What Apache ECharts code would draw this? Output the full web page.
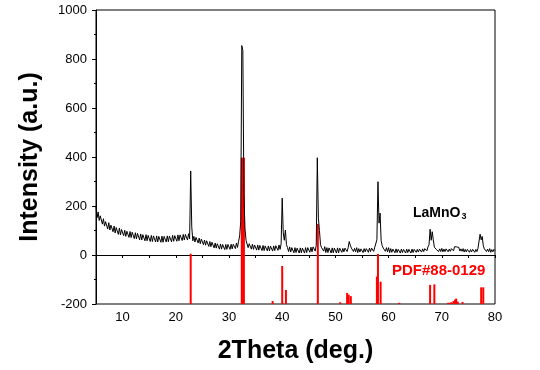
<!DOCTYPE html>
<html><head><meta charset="utf-8">
<script src="https://cdn.jsdelivr.net/npm/echarts@6/dist/echarts.min.js"></script>
<style>html,body{margin:0;padding:0;background:#fff}#c{width:540px;height:370px}</style>
</head><body><div id="c"></div>
<script>
const xStart = 5, xStep = 0.2;
const intensity = [
196,152,176,141,160, 162,126,148,118,136, 142,106,132,102,122, 126,95,118,90,112,
117,84,110,82,104, 108,79,101,76,97, 102,72,96,71,93, 97,67,91,66,88,
92,62,86,61,83, 88,58,83,58,80, 85,55,80,55,78, 82,53,78,53,76,
81,52,77,52,76, 81,53,78,54,77, 83,54,80,56,79, 85,56,82,58,82,
87,59,84,61,84, 90,61,87,66,343, 115,58,76,53,72, 75,49,69,46,65,
67,42,61,40,58, 60,35,55,34,52, 54,29,49,28,46, 49,24,45,24,43,
46,22,43,23,43, 47,23,44,25,44, 49,26,49,31,56, 78,135,855,835,250,
110,60,52,30,46, 49,24,44,23,41, 45,20,41,20,39, 42,18,39,18,37,
41,17,37,17,36, 40,16,37,18,38, 42,19,41,23,46, 232,90,60,102,42,
30,14,33,12,30, 34,9,30,10,28, 32,8,29,9,28, 32,8,30,10,30,
34,11,32,13,33, 38,16,40,397,150, 100,42,30,34,16, 34,10,30,10,29,
33,8,29,9,28, 32,8,29,9,28, 30,11,27,13,28, 32,14,30,55,40,
28,34,14,27,13, 30,10,26,12,25, 30,10,26,13,26, 31,11,28,14,28,
34,15,32,38,62, 299,130,171,58,38, 28,33,15,30,13, 30,10,26,11,24,
29,9,25,10,23, 28,8,24,10,23, 28,8,24,10,23, 28,8,24,10,23,
25,11,23,12,24, 26,12,25,14,26, 29,17,33,42,105, 60,95,62,32,28,
22,27,14,25,14, 27,13,24,14,25, 27,13,24,15,26, 29,17,34,36,33,
28,31,16,25,15, 26,12,23,13,23, 25,11,22,13,23, 25,11,23,14,27,
28,85,62,76,38, 25,28,14,24,13, 26,11,22,13,23,
18
];
// PDF#88-0129 reference sticks (position, top value; sticks start at -200)
const pdfPos = [22.8, 32.4, 32.6, 32.8, 38.2, 40.0, 40.7, 46.7, 50.9, 52.2, 52.5, 52.9, 57.8, 58.0, 58.5, 62.0, 67.8, 68.6, 71.2, 71.5, 71.8, 72.2, 72.5, 72.7, 73.0, 73.9, 77.4, 77.8];
const pdfTop = [5, 397, 397, 397, -188, -45, -143, 127, -193, -155, -162, -168, -88, 4, -109, -195, -122, -120, -195, -195, -193, -188, -182, -178, -190, -192, -132, -132];
const yTicks = [-200, 0, 200, 400, 600, 800, 1000];
const xLabels = [10, 20, 30, 40, 50, 60, 70, 80];

const lineData = intensity.map((v, i) => [+(xStart + i * xStep).toFixed(2), v]);
const stickData = pdfPos.map((p, i) => [p, pdfTop[i]]);

const chart = echarts.init(document.getElementById('c'), null, {renderer: 'canvas'});
const font = 'Arial, "Liberation Sans", sans-serif';
chart.setOption({
  animation: false,
  grid: {left: 96, right: 45, top: 10, bottom: 66, show: true, borderColor: '#000', borderWidth: 1},
  xAxis: {
    type: 'value', min: 5, max: 80, interval: 5,
    name: '2Theta (deg.)', nameLocation: 'middle', nameGap: 35,
    nameTextStyle: {fontSize: 25, fontWeight: 'bold', color: '#000', fontFamily: font},
    axisLine: {show: true, lineStyle: {color: '#000', width: 1}},
    axisTick: {show: true, inside: false, length: 3, lineStyle: {color: '#000'}},
    axisLabel: {color: '#000', fontSize: 13, fontFamily: font, margin: 7,
      formatter: v => (xLabels.indexOf(Math.round(v)) >= 0 && Math.abs(v - Math.round(v)) < 1e-6) ? String(Math.round(v)) : ''},
    splitLine: {show: false}
  },
  yAxis: {
    type: 'value', min: -200, max: 1000, interval: 200,
    name: 'Intensity (a.u.)', nameLocation: 'middle', nameGap: 53,
    nameTextStyle: {fontSize: 25, fontWeight: 'bold', color: '#000', fontFamily: font},
    axisLine: {show: true, lineStyle: {color: '#000', width: 1}},
    axisTick: {show: true, inside: false, length: 4, lineStyle: {color: '#000'}},
    minorTick: {show: true, splitNumber: 2, length: 2, lineStyle: {color: '#000'}},
    axisLabel: {color: '#000', fontSize: 13, fontFamily: font, margin: 9,
      formatter: v => yTicks.indexOf(v) >= 0 ? String(v) : ''},
    splitLine: {show: false}
  },
  series: [
    {
      type: 'custom', data: stickData, silent: true, z: 3,
      renderItem: (params, api) => {
        const top = api.coord([api.value(0), api.value(1)]);
        const base = api.coord([api.value(0), -200]);
        return {type: 'rect', shape: {x: top[0] - 1, y: top[1], width: 2, height: base[1] - top[1]},
          style: {fill: '#ff0000'}};
      }
    },
    {
      type: 'line', data: lineData, showSymbol: false, symbol: 'none', z: 4, sampling: null,
      lineStyle: {color: '#000', width: 1}, silent: true
    }
  ],
  graphic: [
    {type: 'text', left: 413, top: 206, style: {
      text: '{m|LaMnO}{s|3}', fill: '#000',
      rich: {m: {fontSize: 14, fontWeight: 'bold', fontFamily: font, fill: '#000'},
             s: {fontSize: 9, fontWeight: 'bold', fontFamily: font, fill: '#000', padding: [8, 0, 0, 1]}}
    }},
    {type: 'text', left: 392, top: 263, style: {
      text: 'PDF#88-0129', fill: '#ff0000', font: 'bold 15px ' + font
    }}
  ]
});
</script>
</body></html>
